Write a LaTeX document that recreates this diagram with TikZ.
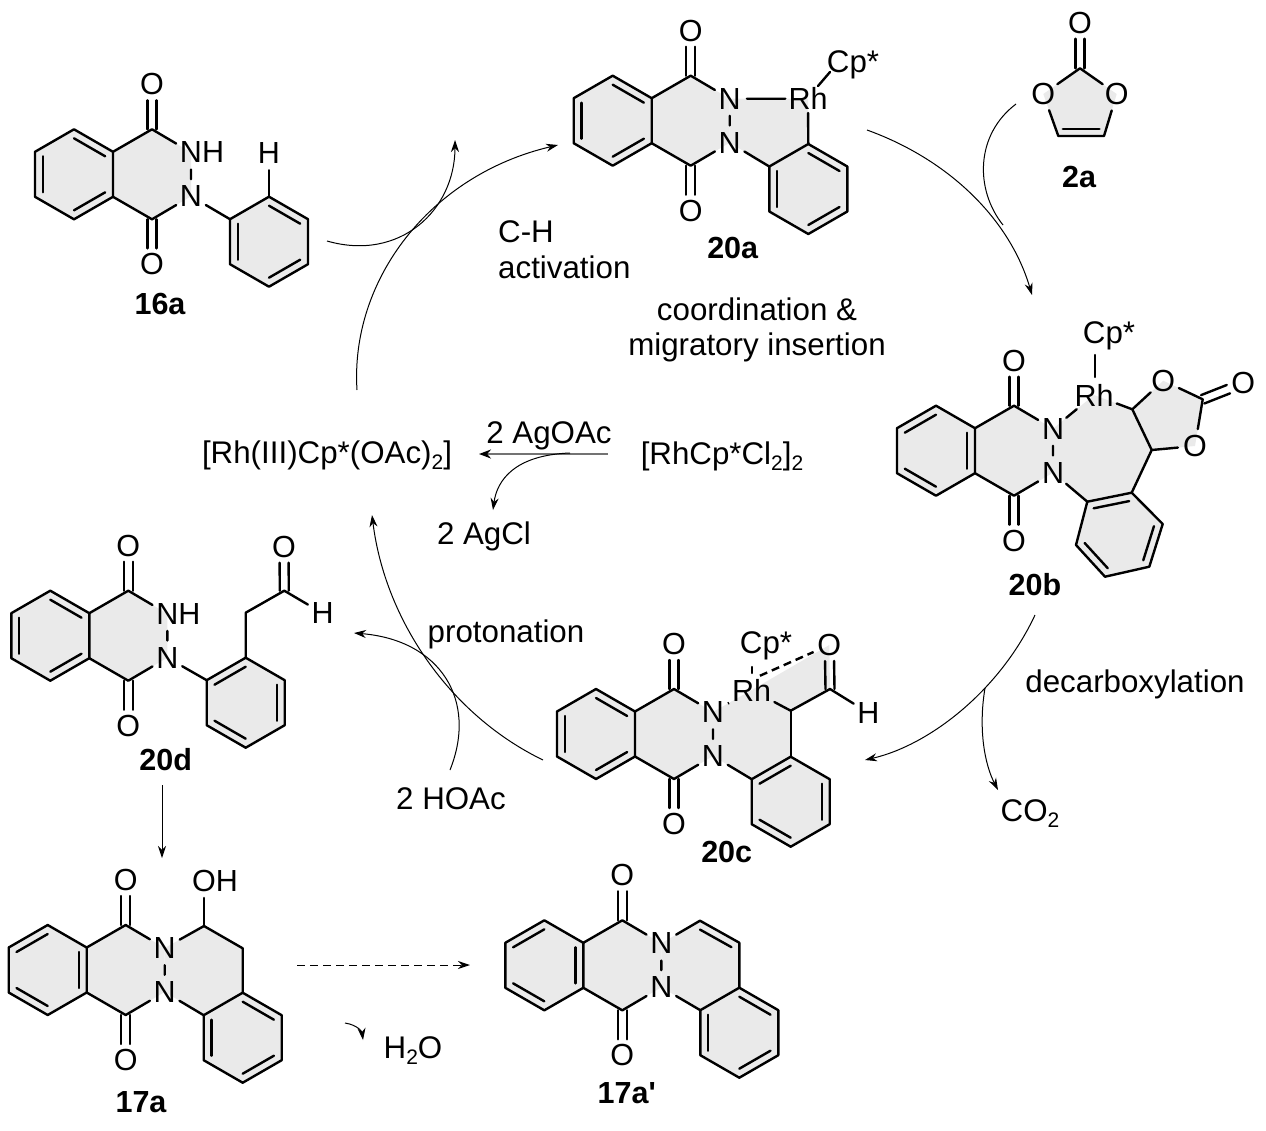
\documentclass[tikz,border=0pt]{standalone}
\usepackage{fontspec}
\setmainfont{Liberation Sans}
\usetikzlibrary{calc,backgrounds,arrows.meta}

\definecolor{ringgray}{HTML}{EAEAEA}

\tikzset{
  bond/.style={line width=2.4pt,line join=round,line cap=round},
  thin arrow/.style={line width=1pt,-{Stealth[length=12pt,width=8pt]}},
  thin line/.style={line width=1pt},
  atom/.style={circle,inner sep=0pt,minimum size=34pt,font=\fontsize{30.5}{32}\selectfont},
  metal/.style={rectangle,inner xsep=3pt,inner ysep=3pt,font=\fontsize{30.5}{32}\selectfont},
  lbl/.style={inner sep=0pt,anchor=base,font=\fontsize{31.3}{33}\selectfont},
  cmpd/.style={lbl,font=\fontsize{30.5}{32}\selectfont\bfseries}
}

\newcommand{\lowr}[1]{\raisebox{-6pt}{\fontsize{21}{21}\selectfont #1}}

% inner line of a double bond, pulled towards the ring centre
\newcommand{\Inner}[3]{\draw[bond] ($(#1)!.2!(#3)$) -- ($(#2)!.2!(#3)$);}
% double bond from atom to oxygen
\newcommand{\Dbl}[2]{
  \draw[bond,shorten >=16pt] ($(#1)!4.5pt!90:(#2)$) -- ($(#2)!4.5pt!-90:(#1)$);
  \draw[bond,shorten >=16pt] ($(#1)!4.5pt!-90:(#2)$) -- ($(#2)!4.5pt!90:(#1)$);
}
\newcommand{\Shade}[1]{\begin{scope}[on background layer]\fill[ringgray] #1 -- cycle;\end{scope}}

% benzene ring: name, x, y, pattern
\newcommand{\Hexa}[4]{
  \coordinate (#1c)  at (#2,#3);
  \coordinate (#1t)  at (#2,#3-45);
  \coordinate (#1ur) at (#2+39,#3-22.5);
  \coordinate (#1lr) at (#2+39,#3+22.5);
  \coordinate (#1b)  at (#2,#3+45);
  \coordinate (#1ll) at (#2-39,#3+22.5);
  \coordinate (#1ul) at (#2-39,#3-22.5);
  \Shade{(#1t) -- (#1ur) -- (#1lr) -- (#1b) -- (#1ll) -- (#1ul)}
  \draw[bond] (#1t) -- (#1ur) -- (#1lr) -- (#1b) -- (#1ll) -- (#1ul) -- cycle;
  \if#4A
    \Inner{#1t}{#1ur}{#1c}\Inner{#1ll}{#1ul}{#1c}\Inner{#1b}{#1lr}{#1c}
  \else
    \Inner{#1t}{#1ul}{#1c}\Inner{#1ur}{#1lr}{#1c}\Inner{#1b}{#1ll}{#1c}
  \fi
}

% phthalazinedione: name, x, y, pattern, text of upper N
\newcommand{\Core}[5]{
  \Hexa{#1}{#2}{#3}{#4}
  \coordinate (#1C1) at (#2+78,#3-45);
  \coordinate (#1C4) at (#2+78,#3+45);
  \node[atom] (#1O1) at (#2+78,#3-90) {O};
  \node[atom] (#1O4) at (#2+78,#3+90) {O};
  \node[atom] (#1N1) at (#2+117,#3-22) {#5};
  \node[atom] (#1N2) at (#2+117,#3+22) {N};
  \Shade{(#1ur) -- (#1C1) -- (#1N1.center) -- (#1N2.center) -- (#1C4) -- (#1lr)}
  \draw[bond] (#1ur) -- (#1C1) -- (#1N1) -- (#1N2) -- (#1C4) -- (#1lr);
  \Dbl{#1C1}{#1O1}
  \Dbl{#1C4}{#1O4}
}

\begin{document}
\begin{tikzpicture}[x=1pt,y=-1pt]

  \useasboundingbox (0,0) rectangle (1266,1130);

  % 16a
  \Core{p}{74}{174.3}{A}{N\rlap{H}}
  \Hexa{pa}{269}{241.7}{A}
  \node[atom] (pH) at (269,153) {H};
  \draw[bond] (pN2) -- (paul);
  \draw[bond] (pat) -- (pH);

  % 20a
  \Core{a}{612.7}{120.7}{A}{N}
  \Hexa{aa}{808.3}{189}{A}
  \node[metal] (aRh) at (808,98.7) {Rh};
  \node[lbl] (aCp) at (853,72.5) {Cp*};
  \Shade{(aN1.center) -- (aRh.center) -- (aat) -- (aaul) -- (aN2.center)}
  \draw[bond] (aN1) -- (aRh) -- (aat);
  \draw[bond] (aN2) -- (aaul);
  \draw[bond] (818,86) -- (830,72);

  % 2a
  \node[atom] (dO1) at (1080,22.7) {O};
  \node[atom] (dO2) at (1043.3,94) {O};
  \node[atom] (dO3) at (1116.7,94) {O};
  \coordinate (dC1) at (1080,68.3);
  \coordinate (dC2) at (1058.3,136);
  \coordinate (dC3) at (1104,136);
  \coordinate (dc)  at (1081,100);
  \Shade{(dC1) -- (dO3.center) -- (dC3) -- (dC2) -- (dO2.center)}
  \draw[bond] (dO2) -- (dC1) -- (dO3) -- (dC3) -- (dC2) -- (dO2);
  \Inner{dC2}{dC3}{dc}
  \Dbl{dC1}{dO1}

  % 20b
  \Core{b}{936}{450.7}{B}{N}
  \node[metal] (bRh) at (1094,395) {Rh};
  \node[lbl] (bCp) at (1109,343) {Cp*};
  \node[atom] (bO1) at (1163.3,380.7) {O};
  \node[atom] (bO2) at (1195,446) {O};
  \node[atom] (bO3) at (1243.3,383.3) {O};
  \coordinate (bC1) at (1132.3,409.3);
  \coordinate (bC2) at (1151.7,450);
  \coordinate (bC3) at (1202.7,399.3);
  \coordinate (ba1) at (1131.7,492.7);
  \coordinate (ba2) at (1162.7,524);
  \coordinate (ba3) at (1149.3,566.7);
  \coordinate (ba4) at (1105,576.7);
  \coordinate (ba5) at (1076,545);
  \coordinate (ba6) at (1087.3,501.7);
  \coordinate (bac) at (1119,534.7);
  \Shade{(bN1.center) -- (bRh.center) -- (bC1) -- (bC2) -- (ba1) -- (ba6) -- (bN2.center)}
  \Shade{(bC1) -- (bO1.center) -- (bC3) -- (bO2.center) -- (bC2)}
  \Shade{(ba1) -- (ba2) -- (ba3) -- (ba4) -- (ba5) -- (ba6)}
  \draw[bond] (ba1) -- (ba2) -- (ba3) -- (ba4) -- (ba5) -- (ba6) -- cycle;
  \Inner{ba6}{ba1}{bac}\Inner{ba2}{ba3}{bac}\Inner{ba4}{ba5}{bac}
  \draw[bond] (bN1) -- (bRh);
  \draw[bond] (bN2) -- (ba6);
  \draw[bond] (bRh) -- (bC1) -- (bO1) -- (bC3) -- (bO2) -- (bC2) -- (bC1);
  \draw[bond] (bC2) -- (ba1);
  \draw[bond] (1095,355) -- (1095,377);
  \Dbl{bC3}{bO3}

  % 20c
  \Core{c}{596}{734}{A}{N}
  \Hexa{ca}{790.7}{801.7}{B}
  \node[metal] (cRh) at (751.7,690) {Rh};
  \node[lbl] (cCp) at (766,653) {Cp*};
  \node[atom] (cO) at (829.3,645) {O};
  \node[atom] (cH) at (868.3,712.7) {H};
  \coordinate (cC1) at (790.7,710.7);
  \coordinate (cC2) at (830,689);
  \Shade{(cN1.center) -- (cRh.center) -- (cC1) -- (cat) -- (caul) -- (cN2.center)}
  \Shade{(cRh.center) -- (cO.center) -- (cC2) -- (cC1)}
  \draw[bond] (cRh) -- (cC1) -- (cC2) -- (cH);
  \draw[bond] (cC1) -- (cat);
  \draw[bond] (cN2) -- (caul);
  \draw[bond] (751.7,667) -- (751.7,673);
  \draw[bond,line cap=butt,dash pattern=on 8pt off 5pt] (cRh.60) -- (cO);
  \draw[bond,line cap=butt,dash pattern=on 3pt off 5pt] (cN1) -- (cRh);
  \Dbl{cC2}{cO}

  % 20d
  \Core{e}{50.3}{635.7}{A}{N\rlap{H}}
  \Hexa{ea}{245.7}{702.7}{B}
  \node[atom] (eO) at (284,546.7) {O};
  \node[atom] (eH) at (322.7,613.3) {H};
  \coordinate (eC1) at (245.7,612.7);
  \coordinate (eC2) at (284.3,590.7);
  \draw[bond] (eN2) -- (eaul);
  \draw[bond] (eat) -- (eC1) -- (eC2) -- (eH);
  \Dbl{eC2}{eO}

  % 17a
  \Core{f}{47.7}{970}{B}{N}
  \Hexa{fa}{242.7}{1037.7}{A}
  \node[atom] (fO) at (204,880.7) {O\rlap{H}};
  \coordinate (fC1) at (204,926);
  \coordinate (fC2) at (242.7,948.3);
  \Shade{(fN1.center) -- (fC1) -- (fC2) -- (fat) -- (faul) -- (fN2.center)}
  \draw[bond] (fN1) -- (fC1) -- (fC2) -- (fat);
  \draw[bond] (fN2) -- (faul);
  \draw[bond] (fC1) -- (fO);

  % 17a'
  \Core{g}{544.3}{965.3}{B}{N}
  \Hexa{ga}{739.3}{1032.7}{A}
  \coordinate (gC1) at (700,920.7);
  \coordinate (gC2) at (739.3,942.7);
  \coordinate (gc)  at (700,965);
  \Shade{(gN1.center) -- (gC1) -- (gC2) -- (gat) -- (gaul) -- (gN2.center)}
  \draw[bond] (gN1) -- (gC1) -- (gC2) -- (gat);
  \draw[bond] (gN2) -- (gaul);
  \Inner{gC1}{gC2}{gc}

  % compound numbers
  \begin{scope}[every node/.style={cmpd}]
    \node (n16a) at (160,314) {16a};
    \node (n20a) at (732.7,258.5) {20a};
    \node (n2a)  at (1079,187) {2a};
    \node (n20b) at (1035,595.5) {20b};
    \node (n20c) at (726.7,862) {20c};
    \node (n20d) at (165.7,770.5) {20d};
    \node (n17a) at (141,1112) {17a};
    \node (n17b) at (626.7,1103.5) {17a\textquotesingle};
  \end{scope}

  % reagents and steps
  \begin{scope}[every node/.style={lbl}]
    \node[anchor=base west] (tCH)  at (498,242) {C-H};
    \node[anchor=base west] (tact) at (498,278) {activation};
    \node (tcoo) at (757,320) {coordination \&};
    \node (tmig) at (757,355) {migratory insertion};
    \node (tRh)  at (327,463) {[Rh(III)Cp*(OAc)\lowr{2}]};
    \node (tAg)  at (549,443) {2 AgOAc};
    \node (tdim) at (722,464) {[RhCp*Cl\lowr{2}]\lowr{2}};
    \node (tCl)  at (484,544) {2 AgCl};
    \node (tpro) at (506,642) {protonation};
    \node (tdec) at (1135,692) {decarboxylation};
    \node (tco2) at (1030,821) {CO\lowr{2}};
    \node (thoa) at (451,809) {2 HOAc};
    \node (th2o) at (413,1058) {H\lowr{2}O};
  \end{scope}

  % free ends of the arrows
  \coordinate (s1) at (327,241);
  \coordinate (e1) at (455,140);
  \coordinate (s2) at (357,390);
  \coordinate (e2) at (558,145);
  \coordinate (s3) at (867,130);
  \coordinate (e3) at (1032,295);
  \coordinate (s4) at (1016,104);
  \coordinate (e4) at (1003,225);
  \coordinate (s5) at (1035,615);
  \coordinate (e5) at (865,760);
  \coordinate (s6) at (985,688);
  \coordinate (e6) at (998,790);
  \coordinate (s7) at (543,760);
  \coordinate (e7) at (372,515);
  \coordinate (s8) at (450,770);
  \coordinate (e8) at (354,633);
  \coordinate (s9) at (162,785);
  \coordinate (e9) at (162,858);
  \coordinate (s10) at (297,965);
  \coordinate (e10) at (470,965);
  \coordinate (s11) at (345,1023);
  \coordinate (e11) at (363,1040);
  \coordinate (s12) at (608,454);
  \coordinate (e12) at (479,454);
  \coordinate (s13) at (570,453);
  \coordinate (e13) at (493,510);

  \draw[thin arrow] (s1) .. controls (400,262) and (455,210) .. (e1);
  \draw[thin arrow] (s2) .. controls (350,280) and (430,175) .. (e2);
  \draw[thin arrow] (s3) .. controls (950,160) and (1010,220) .. (e3);
  \draw[thin line]  (s4) .. controls (975,135) and (975,190) .. (e4);
  \draw[thin arrow] (s5) .. controls (1000,690) and (930,745) .. (e5);
  \draw[thin arrow] (s6) .. controls (978,730) and (985,765) .. (e6);
  \draw[thin arrow] (s7) .. controls (450,715) and (385,620) .. (e7);
  \draw[thin arrow] (s8) .. controls (478,700) and (440,640) .. (e8);
  \draw[thin arrow] (s9) -- (e9);
  \draw[thin arrow,dash pattern=on 8pt off 5pt] (s10) -- (e10);
  \draw[thin arrow] (s11) .. controls (358,1025) and (362,1032) .. (e11);
  \draw[draw=gray!90!black,line width=2pt,-{Stealth[length=12pt,width=9pt,black]}] (s12) -- (e12);
  \draw[thin arrow] (s13) .. controls (515,455) and (497,480) .. (e13);

\end{tikzpicture}
\end{document}
